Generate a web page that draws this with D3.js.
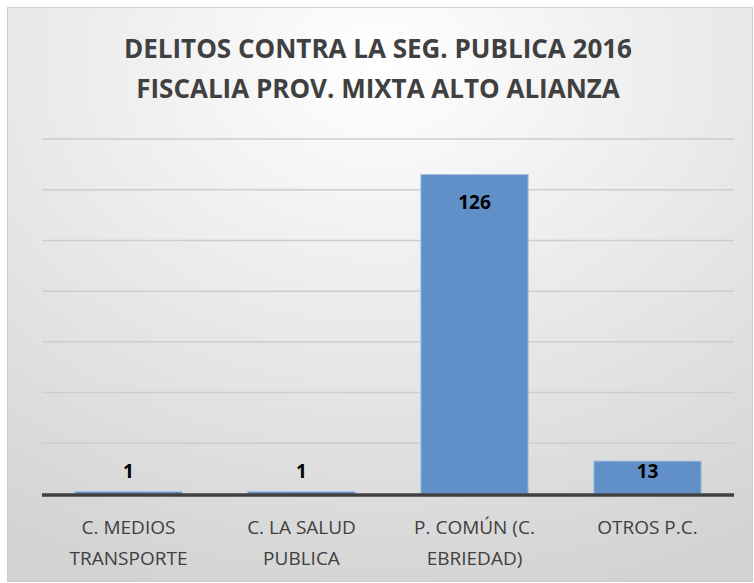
<!DOCTYPE html>
<html>
<head>
<meta charset="utf-8">
<script src="https://cdn.jsdelivr.net/npm/d3@7"></script>
<style>
  body { margin: 0; background: #fff; }
  svg { display: block; }
</style>
</head>
<body>
<svg id="chart" width="754" height="583"></svg>
<script>
var titleLines = ["DELITOS CONTRA LA SEG. PUBLICA 2016", "FISCALIA PROV. MIXTA ALTO ALIANZA"];
var categories = [["C. MEDIOS", "TRANSPORTE"], ["C. LA SALUD", "PUBLICA"], ["P. COMÚN (C.", "EBRIEDAD)"], ["OTROS P.C."]];
var values = [1, 1, 126, 13];
var gridTicks = [20, 40, 60, 80, 100, 120, 140];

var svg = d3.select("#chart");
var margin = {left: 42, right: 20, top: 139, bottom: 89};
var width = 754, height = 583;

// background
var defs = svg.append("defs");
var grad = defs.append("radialGradient")
	.attr("id", "bg")
	.attr("cx", "50%").attr("cy", "10%").attr("r", "95%");
grad.append("stop").attr("offset", "0%").attr("stop-color", "#ffffff");
grad.append("stop").attr("offset", "100%").attr("stop-color", "#d3d3d3");

svg.append("rect")
	.attr("x", 7.5).attr("y", 7.5)
	.attr("width", width - 9).attr("height", height - 9)
	.attr("fill", "url(#bg)")
	.attr("stroke", "#cfcfcf");

var x = d3.scaleBand()
	.domain(d3.range(values.length))
	.range([margin.left, width - margin.right])
	.paddingInner(0.38)
	.paddingOuter(0.19);

var y = d3.scaleLinear()
	.domain([0, 140])
	.range([height - margin.bottom, margin.top]);

// gridlines
svg.append("g")
	.selectAll("line")
	.data(gridTicks)
	.join("line")
	.attr("x1", margin.left).attr("x2", width - margin.right)
	.attr("y1", function(d) { return y(d); })
	.attr("y2", function(d) { return y(d); })
	.attr("stroke", "#cdcdcd")
	.attr("stroke-width", 1.5);

// bars
svg.append("g")
	.selectAll("rect")
	.data(values)
	.join("rect")
	.attr("x", function(d, i) { return x(i); })
	.attr("y", function(d) { return y(d); })
	.attr("width", x.bandwidth())
	.attr("height", function(d) { return y(0) - y(d); })
	.attr("fill", "#6090c7")
	.attr("stroke", "#a9c2e2")
	.attr("stroke-width", 1);

// baseline
svg.append("line")
	.attr("x1", margin.left).attr("x2", width - margin.right)
	.attr("y1", y(0) + 1).attr("y2", y(0) + 1)
	.attr("stroke", "#404040")
	.attr("stroke-width", 3.5);

// data labels
svg.append("g")
	.selectAll("text")
	.data(values)
	.join("text")
	.attr("x", function(d, i) { return x(i) + x.bandwidth() / 2; })
	.attr("y", function(d) { return Math.min(y(d) + 34, y(0) - 16); })
	.attr("text-anchor", "middle")
	.attr("font-family", "'Open Sans', sans-serif")
	.attr("font-weight", "bold")
	.attr("font-size", 19)
	.attr("fill", "#000")
	.text(function(d) { return d; });

// category labels
var catGroup = svg.append("g");
categories.forEach(function(lines, i) {
	var t = catGroup.append("text")
		.attr("text-anchor", "middle")
		.attr("font-family", "'Open Sans', sans-serif")
		.attr("font-size", 19)
		.attr("fill", "#404040");
	lines.forEach(function(line, j) {
		t.append("tspan")
			.attr("x", x(i) + x.bandwidth() / 2)
			.attr("y", 534 + j * 31)
			.text(line);
	});
});

// title
var title = svg.append("text")
	.attr("text-anchor", "middle")
	.attr("font-family", "'Open Sans', sans-serif")
	.attr("font-weight", "bold")
	.attr("font-size", 26)
	.attr("fill", "#404040");
titleLines.forEach(function(line, j) {
	title.append("tspan")
		.attr("x", 378)
		.attr("y", 58 + j * 40)
		.text(line);
});
</script>
</body>
</html>
